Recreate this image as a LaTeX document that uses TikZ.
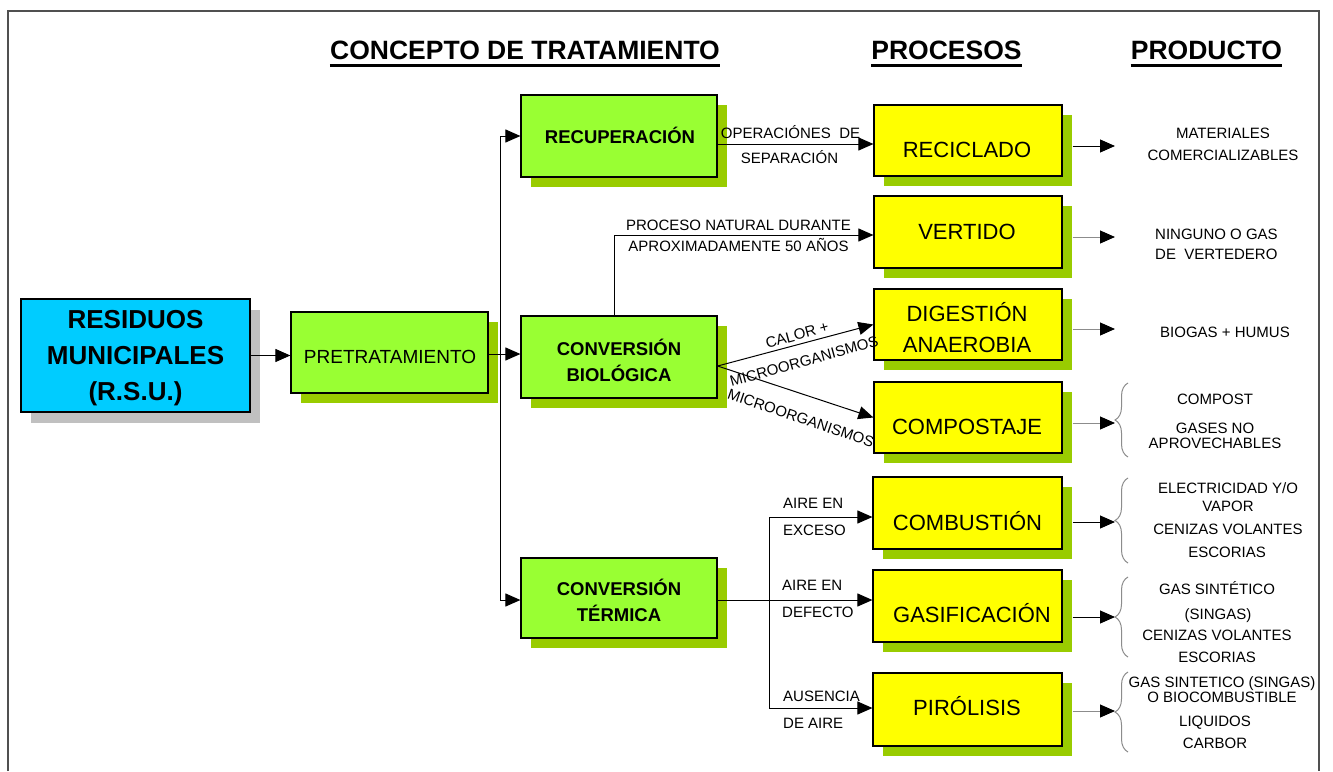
\documentclass[tikz,border=0pt]{standalone}
\usepackage{fontspec}
\setmainfont{Liberation Sans}
\usetikzlibrary{arrows.meta,shadows,calc,decorations.pathreplacing}
\definecolor{cyanbox}{HTML}{00CCFF}
\definecolor{greenbox}{HTML}{99FF33}
\definecolor{shgreen}{HTML}{99CC00}
\definecolor{yelbox}{HTML}{FFFF00}
\definecolor{shgray}{HTML}{C0C0C0}
\definecolor{framecol}{HTML}{505050}
\definecolor{linegray}{HTML}{8C8C8C}
\newcommand\fLab{\fontsize{15}{18}\selectfont}
\newcommand\fHead{\fontsize{26.5}{30}\selectfont\bfseries}
\newcommand\fRsu{\fontsize{26}{36}\selectfont\bfseries}
\newcommand\fPre{\fontsize{19}{22}\selectfont}
\newcommand\fConc{\fontsize{18.5}{26}\selectfont\bfseries}
\newcommand\fProc{\fontsize{22}{31}\selectfont}
\begin{document}
\begin{tikzpicture}[x=1pt,y=-1pt,
  gshadow/.style={drop shadow={shadow xshift=10pt,shadow yshift=-10pt,fill=shgreen,opacity=1}},
  boxbase/.style={draw=black,line width=1.2pt,inner sep=0pt},
  greenb/.style={boxbase,fill=greenbox,gshadow,minimum width=196pt,minimum height=82pt},
  yellowb/.style={boxbase,fill=yelbox,gshadow,minimum width=188pt,minimum height=71pt},
  arr/.style={line width=1pt,-{Triangle[length=15pt,width=13pt]}},
  garr/.style={line width=1pt,draw=linegray,-{Triangle[length=15pt,width=13pt,color=black]}},
  plain/.style={line width=1pt},
  txt/.style={inner sep=0pt,align=center},
  lab/.style={txt,font=\fLab},
  lab1/.style={lab,text height=10.7pt,text depth=0pt},
  conc/.style={txt,font=\fConc},
  proc/.style={txt,font=\fProc},
  proc1/.style={proc,text height=15.8pt,text depth=0pt},
  head/.style={inner sep=0pt,font=\fHead,text height=19pt,text depth=0pt},
  brc/.style={draw=linegray,line width=1pt,decorate,decoration={brace,amplitude=13pt}}
]
\useasboundingbox (0,0) rectangle (1333,771);
\fill[white] (0,0) rectangle (1333,771);

% frame
\draw[framecol,line width=1.5pt] (8,771) -- (8,11) -- (1319,11) -- (1319,771);

% headers
\node[head] (h1) at (525,50) {CONCEPTO DE TRATAMIENTO};
\node[head] (h2) at (946.5,50) {PROCESOS};
\node[head] (h3) at (1206.5,50) {PRODUCTO};
\foreach \h in {h1,h2,h3}
  \draw[line width=3pt] ([yshift=-5.5pt]\h.south west) -- ([yshift=-5.5pt]\h.south east);

% boxes
\node[boxbase,fill=cyanbox,minimum width=229pt,minimum height=113pt,
      drop shadow={shadow xshift=10pt,shadow yshift=-11pt,fill=shgray,opacity=1}] (rsu) at (135.5,355.5) {};
\node[greenb,minimum width=197pt,minimum height=81pt] (pre) at (389.5,352.5) {};
\node[greenb] (recu) at (619,136) {};
\node[greenb] (bio) at (619,357) {};
\node[greenb,minimum height=80pt] (term) at (619,598) {};
\node[yellowb] (recic) at (968,140.5) {};
\node[yellowb,minimum height=72pt] (vert) at (968,232) {};
\node[yellowb] (dig) at (968,324.5) {};
\node[yellowb] (comp) at (968,417.5) {};
\node[yellowb,minimum width=189pt,minimum height=72pt] (comb) at (967.5,513) {};
\node[yellowb,minimum width=189pt,minimum height=72pt] (gasif) at (967.5,606) {};
\node[yellowb,minimum width=189pt,minimum height=73pt] (piro) at (967.5,709.5) {};

% box texts
\node[txt,font=\fRsu] (rsut) at (135.5,358) {RESIDUOS\\MUNICIPALES\\(R.S.U.)};
\node[txt,font=\fPre,text height=13.6pt,text depth=0pt] (pret) at (390,357) {PRETRATAMIENTO};
\node[conc,text height=13.2pt,text depth=0pt] (recut) at (620,137) {RECUPERACIÓN};
\node[conc] (biot) at (619,360) {CONVERSIÓN\\BIOLÓGICA};
\node[conc] (termt) at (619,600) {CONVERSIÓN\\TÉRMICA};
\node[proc1] (recict) at (967,150) {RECICLADO};
\node[proc1] (vertt) at (967,232) {VERTIDO};
\node[proc] (digt) at (967,328) {DIGESTIÓN\\ANAEROBIA};
\node[proc1] (compt) at (967,427) {COMPOSTAJE};
\node[proc1] (combt) at (967.5,523) {COMBUSTIÓN};
\node[proc1] (gasift) at (972,615) {GASIFICACIÓN};
\node[proc1] (pirot) at (967,708) {PIRÓLISIS};

% left connectors
\draw[arr] (rsu.east) -- (pre.west |- rsu.east);
\coordinate (jx) at (500,354);
\draw[arr] (pre.east |- jx) -- (bio.west |- jx);
\draw[arr] (jx) |- (recu.west);
\draw[arr] (jx) |- ([yshift=-2pt]term.west);

% recuperacion -> reciclado
\coordinate (ya) at (0,144);
\draw[arr] (recu.east |- ya) -- (recic.west |- ya);
\node[lab1] (op1) at (790.5,133) {OPERACIÓNES~~DE};
\node[lab1] (op2) at (789.5,158) {SEPARACIÓN};

% biologica -> vertido
\coordinate (yb) at (614,235);
\draw[arr] (bio.north -| yb) |- (vert.west |- yb);
\node[lab1] (pn1) at (738.5,225) {PROCESO NATURAL DURANTE};
\node[lab1] (pn2) at (738.5,246) {APROXIMADAMENTE 50 AÑOS};

% biologica -> digestion / compostaje
\coordinate (bs) at ([yshift=-9pt]bio.east);
\draw[arr] (bs) -- (dig.west);
\draw[arr] (bs) -- (comp.west);
\node[lab1,rotate=15.4] (cal) at (797,335) {CALOR +};
\node[lab1,rotate=15.4] (mic1) at (804,361) {MICROORGANISMOS};
\node[lab1,rotate=-18.8] (mic2) at (801,418) {MICROORGANISMOS};

% termica -> combustion / gasificacion / pirolisis
\coordinate (tj) at (769,600);
\draw[arr] (term.east |- tj) -- (gasif.west |- tj);
\draw[arr] (tj) |- ([yshift=-4pt]comb.west);
\draw[arr] (tj) |- ([yshift=1.5pt]piro.west);
\node[lab1,anchor=west] (ae1) at (783,503) {AIRE EN};
\node[lab1,anchor=west] (ex) at (783,530) {EXCESO};
\node[lab1,anchor=west] (ae2) at (782,585) {AIRE EN};
\node[lab1,anchor=west] (def) at (782,612) {DEFECTO};
\node[lab1,anchor=west] (aus) at (783,696) {AUSENCIA};
\node[lab1,anchor=west] (dea) at (783,723) {DE AIRE};

% product arrows
\coordinate (a1) at (1115,146);
\coordinate (a2) at (1115,237);
\coordinate (a3) at (1115,329);
\coordinate (a4) at (1115,423);
\coordinate (a5) at (1115,522);
\coordinate (a6) at (1115,617);
\coordinate (a7) at (1115,711);
\draw[arr]  ($(recic.east |- a1)+(10,0)$) -- (a1);
\draw[garr] ($(vert.east |- a2)+(10,0)$) -- (a2);
\draw[garr] ($(dig.east |- a3)+(10,0)$) -- (a3);
\draw[garr] ($(comp.east |- a4)+(10,0)$) -- (a4);
\draw[arr]  ($(comb.east |- a5)+(10,0)$) -- (a5);
\draw[arr]  ($(gasif.east |- a6)+(10,0)$) -- (a6);
\draw[garr] ($(piro.east |- a7)+(10,0)$) -- (a7);

% braces
\coordinate (b1t) at (1128,383); \coordinate (b1b) at (1128,457);
\coordinate (b2t) at (1128,478); \coordinate (b2b) at (1128,563);
\coordinate (b3t) at (1128,577); \coordinate (b3b) at (1128,657);
\coordinate (b4t) at (1128,672); \coordinate (b4b) at (1128,752);
\draw[brc] (b1b) -- (b1t);
\draw[brc] (b2b) -- (b2t);
\draw[brc] (b3b) -- (b3t);
\draw[brc] (b4b) -- (b4t);

% products
\node[lab,font=\fontsize{15}{22}\selectfont] (pr1) at (1223,144) {MATERIALES\\COMERCIALIZABLES};
\node[lab,align=left,anchor=west,font=\fontsize{15}{20}\selectfont] (pr2) at (1155,244) {NINGUNO O GAS\\DE~~VERTEDERO};
\node[lab1] (pr3) at (1225,332) {BIOGAS + HUMUS};
\node[lab1] (pr4a) at (1215,399) {COMPOST};
\node[lab,font=\fontsize{15}{15}\selectfont] (pr4b) at (1215,436) {GASES NO\\APROVECHABLES};
\node[lab] (pr5a) at (1228,497) {ELECTRICIDAD Y/O\\VAPOR};
\node[lab1] (pr5b) at (1228,529) {CENIZAS VOLANTES};
\node[lab1] (pr5c) at (1227,552) {ESCORIAS};
\node[lab1] (pr6a) at (1217,589) {GAS SINTÉTICO};
\node[lab1] (pr6b) at (1218,614) {(SINGAS)};
\node[lab1] (pr6c) at (1217,635) {CENIZAS VOLANTES};
\node[lab1] (pr6d) at (1217,657) {ESCORIAS};
\node[lab,font=\fontsize{15}{15}\selectfont] (pr7a) at (1222,690) {GAS SINTETICO (SINGAS)\\O BIOCOMBUSTIBLE};
\node[lab1] (pr7b) at (1215,721) {LIQUIDOS};
\node[lab1] (pr7c) at (1215,743) {CARBOR};
\end{tikzpicture}
\end{document}
